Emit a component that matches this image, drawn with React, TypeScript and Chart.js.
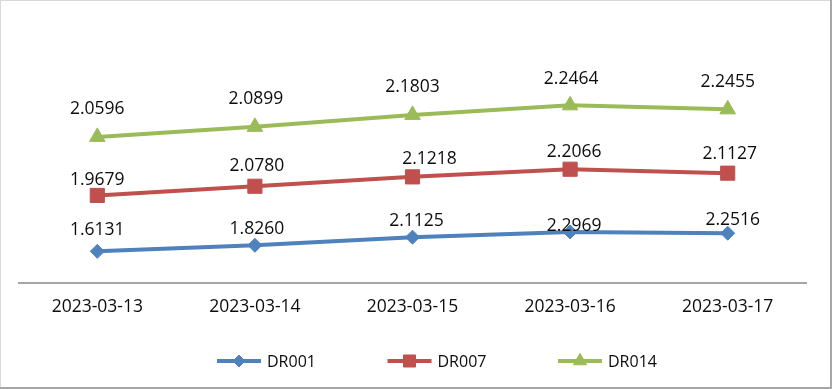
import React, { useEffect, useRef } from 'react';
import { Chart, registerables } from 'chart.js';
import { drawPoint } from 'chart.js/helpers';

Chart.register(...registerables);

const categories = ['2023-03-13', '2023-03-14', '2023-03-15', '2023-03-16', '2023-03-17'];
const seriesNames = ['DR001', 'DR007', 'DR014'];
const dr001 = [1.6131, 1.826, 2.1125, 2.2969, 2.2516];
const dr007 = [1.9679, 2.078, 2.1218, 2.2066, 2.1127];
const dr014 = [2.0596, 2.0899, 2.1803, 2.2464, 2.2455];

const seriesValues = [dr001, dr007, dr014];
const colors = ['#4F81BD', '#C0504D', '#9BBB59'];
const markers = ['rectRot', 'rect', 'triangle'];
const markerRadius = [7, 10, 9];
// label nudges in px (rise above point, shift to the right)
const labelRise = [
  [23, 18, 17.5, 7, 14],
  [16.5, 22, 19.5, 18.5, 20.5],
  [29.5, 29.5, 29.5, 28, 29],
];
const labelShift = [
  [0, 2, 4, 4, 5],
  [0, 2, 17, 4, 2],
  [0, 1, 0, 1, 0],
];

const FONT = "'Open Sans', 'Noto Sans', sans-serif";

const frame = {
  id: 'frame',
  beforeDraw(chart: any) {
    const { ctx, width, height } = chart;
    ctx.save();
    ctx.fillStyle = '#ffffff';
    ctx.fillRect(0, 0, width, height);
    ctx.restore();
  },
  afterDraw(chart: any) {
    const { ctx, width, height } = chart;
    ctx.save();
    ctx.fillStyle = '#D9D9D9';
    ctx.fillRect(0, 0, width, 1);
    ctx.fillRect(0, 0, 1, height);
    ctx.fillStyle = '#A6A6A6';
    ctx.fillRect(width - 2, 0, 2, height);
    ctx.fillRect(0, height - 2, width, 2);
    ctx.restore();
  },
};

const valueLabels = {
  id: 'valueLabels',
  afterDatasetsDraw(chart: any) {
    const { ctx } = chart;
    const size = 17.5;
    ctx.save();
    ctx.font = `${size}px ${FONT}`;
    ctx.fillStyle = '#0d0d0d';
    ctx.textAlign = 'center';
    ctx.textBaseline = 'alphabetic';
    chart.data.datasets.forEach((ds: any, di: number) => {
      const meta = chart.getDatasetMeta(di);
      meta.data.forEach((el: any, i: number) => {
        const v = ds.data[i] as number;
        const x = el.x + labelShift[di][i];
        const y = el.y - labelRise[di][i] + size * 0.357;
        ctx.fillText(v.toFixed(4), x, y);
      });
    });
    ctx.restore();
  },
};

const bottomLegend = {
  id: 'bottomLegend',
  afterDraw(chart: any) {
    const { ctx } = chart;
    const startX = 217;
    const pitch = 170.5;
    const cy = 361;
    const size = 16;
    ctx.save();
    chart.data.datasets.forEach((ds: any, di: number) => {
      const x0 = startX + pitch * di;
      ctx.strokeStyle = ds.borderColor;
      ctx.lineWidth = 4;
      ctx.lineCap = 'butt';
      ctx.beginPath();
      ctx.moveTo(x0, cy);
      ctx.lineTo(x0 + 44, cy);
      ctx.stroke();
      ctx.fillStyle = ds.borderColor;
      ctx.strokeStyle = ds.borderColor;
      ctx.lineWidth = 1;
      drawPoint(ctx, { pointStyle: ds.pointStyle, radius: ds.pointRadius * 0.85, rotation: 0, borderWidth: 1 } as any, x0 + 22, cy);
      ctx.fillStyle = '#0d0d0d';
      ctx.font = `${size}px ${FONT}`;
      ctx.textAlign = 'left';
      ctx.textBaseline = 'alphabetic';
      ctx.fillText(ds.label, x0 + 50, cy + size * 0.357);
    });
    ctx.restore();
  },
};

export default function App() {
  const ref = useRef<HTMLCanvasElement>(null);

  useEffect(() => {
    if (!ref.current) return;
    const chart = new Chart(ref.current, {
      type: 'line',
      data: {
        labels: categories,
        datasets: seriesNames.map((name, i) => ({
          label: name,
          data: seriesValues[i],
          borderColor: colors[i],
          backgroundColor: colors[i],
          borderWidth: 4,
          tension: 0,
          fill: false,
          pointStyle: markers[i] as any,
          pointRadius: markerRadius[i],
          pointBorderWidth: 1,
          pointBackgroundColor: colors[i],
          pointBorderColor: colors[i],
        })),
      },
      options: {
        responsive: false,
        animation: false,
        layout: { padding: { left: 18.5, right: 25.5, top: 13, bottom: 57 } },
        plugins: {
          legend: { display: false },
          tooltip: { enabled: false },
        },
        scales: {
          x: {
            offset: true,
            grid: { display: false, drawTicks: false },
            border: { display: true, color: '#A6A6A6', width: 2 },
            ticks: {
              padding: 14,
              color: '#0d0d0d',
              autoSkip: false,
              maxRotation: 0,
              font: { family: FONT, size: 17.5 },
            },
          },
          y: {
            display: false,
            stacked: true,
            min: 0.5,
            max: 10,
          },
        },
      },
      plugins: [frame, valueLabels, bottomLegend],
    });
    return () => chart.destroy();
  }, []);

  return (
    <canvas
      ref={ref}
      width={832}
      height={389}
      style={{ position: 'absolute', left: 0, top: 0, width: 832, height: 389, display: 'block' }}
    />
  );
}
